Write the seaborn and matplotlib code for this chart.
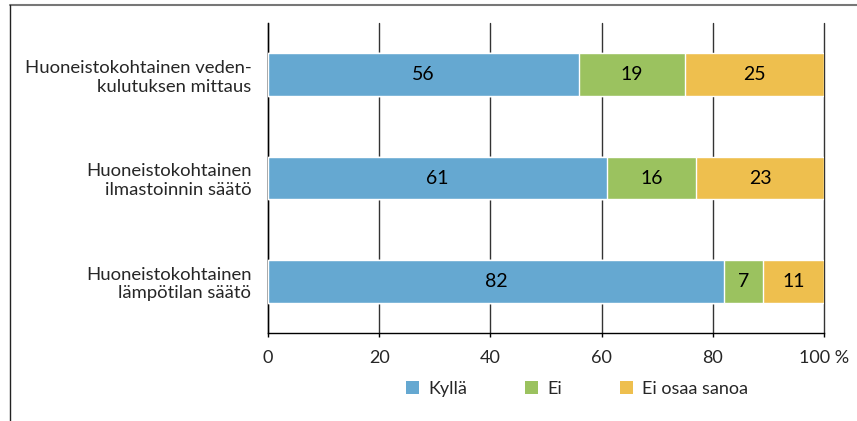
import matplotlib
matplotlib.use("Agg")
import matplotlib.pyplot as plt
from matplotlib.lines import Line2D
from matplotlib.patches import Patch
import seaborn as sns
import pandas as pd

categories = [
    "Huoneistokohtainen veden-\nkulutuksen mittaus",
    "Huoneistokohtainen\nilmastoinnin säätö",
    "Huoneistokohtainen\nlämpötilan säätö",
]
kylla = [56, 61, 82]
ei = [19, 16, 7]
ei_osaa = [25, 23, 11]
series_names = ["Kyllä", "Ei", "Ei osaa sanoa"]
colors = ["#65A8D1", "#9BC25F", "#EEBF4E"]
x_ticks = [0, 20, 40, 60, 80, 100]
x_ticklabels = ["0", "20", "40", "60", "80", "100 %"]

sns.set_theme(style="white")
plt.rcParams["font.family"] = ["Lato", "DejaVu Sans"]

df = pd.DataFrame({"cat": categories, "Kyllä": kylla, "Ei": ei, "Ei osaa sanoa": ei_osaa})
df["c1"] = df["Kyllä"]
df["c2"] = df["c1"] + df["Ei"]
df["c3"] = df["c2"] + df["Ei osaa sanoa"]

fig = plt.figure(figsize=(8.57, 4.21), dpi=100)
ax = fig.add_axes([268 / 857, 1 - 333 / 421, (824 - 268) / 857, (333 - 23) / 421])

# stacked bars: draw cumulative totals back to front
for col, color in zip(["c3", "c2", "c1"], colors[::-1]):
    sns.barplot(data=df, x=col, y="cat", color=color, width=0.415,
                saturation=1, ax=ax, orient="h", zorder=3)

# value labels centred in each segment
starts = [0] * len(categories)
for name in series_names:
    for i, v in enumerate(df[name]):
        ax.text(starts[i] + v / 2, i, f"{v}", ha="center", va="center",
                fontsize=14, color="black", zorder=5)
        starts[i] += v

ax.set_xlim(0, 100)
ax.set_ylim(2.5, -0.5)
ax.set_xticks(x_ticks)
ax.set_xticklabels(x_ticklabels, fontsize=13)
ax.tick_params(axis="x", length=3, width=1, color="black", bottom=True, pad=9)
ax.tick_params(axis="y", length=0, pad=12, labelsize=13.3)
for lbl in ax.get_yticklabels():
    lbl.set_horizontalalignment("right")
    lbl.set_linespacing(1.2)
ax.set_xlabel("")
ax.set_ylabel("")
ax.xaxis.grid(True, color="#333333", linewidth=1)
for gl in ax.get_xgridlines():
    gl.set_clip_on(False)
ax.yaxis.grid(False)
ax.set_axisbelow(True)
for s in ["top", "right"]:
    ax.spines[s].set_visible(False)
for s in ["left", "bottom"]:
    ax.spines[s].set_color("black")
    ax.spines[s].set_linewidth(1)

handles = [Patch(facecolor=c, edgecolor="none") for c in colors]
fig.legend(handles, series_names, loc="center", bbox_to_anchor=(577 / 857, 1 - 389 / 421),
           ncol=3, frameon=False, fontsize=13, handlelength=0.75, handleheight=0.75,
           handletextpad=0.5, columnspacing=3.2)

# outer frame lines
fig.add_artist(Line2D([10 / 857, 1], [1 - 5 / 421] * 2, color="#777777", linewidth=1.5,
                      transform=fig.transFigure))
fig.add_artist(Line2D([10 / 857] * 2, [0, 1 - 5 / 421], color="#222222", linewidth=1,
                      transform=fig.transFigure))

fig.savefig("out.png", dpi=100)
